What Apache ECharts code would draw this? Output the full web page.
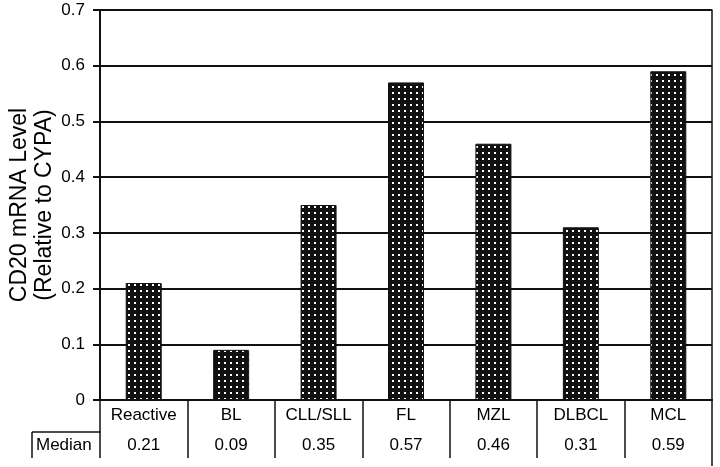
<!DOCTYPE html>
<html>
<head>
<meta charset="utf-8">
<script src="https://cdn.jsdelivr.net/npm/echarts@6/dist/echarts.min.js"></script>
<style>html,body{margin:0;padding:0;background:#fff}#c{width:720px;height:467px}</style>
</head>
<body>
<div id="c"></div>
<script>
const categories = ['Reactive', 'BL', 'CLL/SLL', 'FL', 'MZL', 'DLBCL', 'MCL'];
const medianValues = [0.21, 0.09, 0.35, 0.57, 0.46, 0.31, 0.59];
const medianLabels = ['0.21', '0.09', '0.35', '0.57', '0.46', '0.31', '0.59'];
const yTicks = [0, 0.1, 0.2, 0.3, 0.4, 0.5, 0.6, 0.7];

const pc = document.createElement('canvas');
pc.width = 6; pc.height = 6;
const g = pc.getContext('2d');
g.fillStyle = '#111'; g.fillRect(0, 0, 6, 6);
g.fillStyle = '#fff'; g.fillRect(2, 2, 2, 2);

const chart = echarts.init(document.getElementById('c'), null, {renderer: 'canvas'});
const font = 'Arial, "Liberation Sans", sans-serif';
const lineC = '#111';
chart.setOption({
  animation: false,
  grid: {left: 100, right: 8, top: 10, bottom: 67, containLabel: false, outerBoundsMode: 'none'},
  xAxis: [{
    type: 'category', data: categories, position: 'bottom',
    axisLine: {show: true, lineStyle: {color: lineC, width: 2}},
    axisTick: {show: true, inside: false, length: 58, alignWithLabel: false, lineStyle: {color: lineC, width: 1.5}},
    axisLabel: {color: '#000', fontSize: 17, fontFamily: font, margin: 7},
    splitLine: {show: false}
  }, {
    type: 'category', data: categories, position: 'bottom', offset: 32,
    axisLine: {show: true, lineStyle: {color: lineC, width: 1.5}},
    axisTick: {show: false},
    axisLabel: {color: '#000', fontSize: 17, fontFamily: font, margin: 5,
      formatter: (v, i) => medianLabels[i]},
    splitLine: {show: false}
  }],
  yAxis: [{
    type: 'value', min: 0, max: 0.7, interval: 0.1,
    name: 'CD20 mRNA Level\n(Relative to CYPA)',
    nameLocation: 'middle', nameRotate: 90, nameGap: 43, nameMoveOverlap: false,
    nameTextStyle: {color: '#000', fontSize: 23, fontFamily: font, lineHeight: 25},
    axisLine: {show: true, lineStyle: {color: lineC, width: 2}},
    axisTick: {show: true, inside: false, length: 7, lineStyle: {color: lineC, width: 2}},
    axisLabel: {color: '#000', fontSize: 17, fontFamily: font, margin: 15,
      formatter: v => (v === 0 ? '0' : v.toFixed(1))},
    splitLine: {show: true, lineStyle: {color: lineC, width: 2}}
  }, {
    type: 'value', min: 0, max: 0.7, interval: 0.1, position: 'right',
    axisLine: {show: true, lineStyle: {color: lineC, width: 1.5}},
    axisTick: {show: false}, axisLabel: {show: false}, splitLine: {show: false}
  }],
  series: [{
    type: 'bar', data: medianValues, barWidth: 36, xAxisIndex: 0, yAxisIndex: 0,
    itemStyle: {color: {image: pc, repeat: 'repeat'}, borderColor: '#111', borderWidth: 1}
  }],
  graphic: [
    {type: 'line', shape: {x1: 32, y1: 432, x2: 101, y2: 432}, style: {stroke: lineC, lineWidth: 1.5}},
    {type: 'line', shape: {x1: 32, y1: 432, x2: 32, y2: 458}, style: {stroke: lineC, lineWidth: 1.5}},
    {type: 'line', shape: {x1: 712, y1: 458, x2: 712, y2: 466}, style: {stroke: lineC, lineWidth: 1.5}},
    {type: 'text', left: 36, top: 437, style: {text: 'Median', fill: '#000', font: '17px ' + font}}
  ]
});
</script>
</body>
</html>
